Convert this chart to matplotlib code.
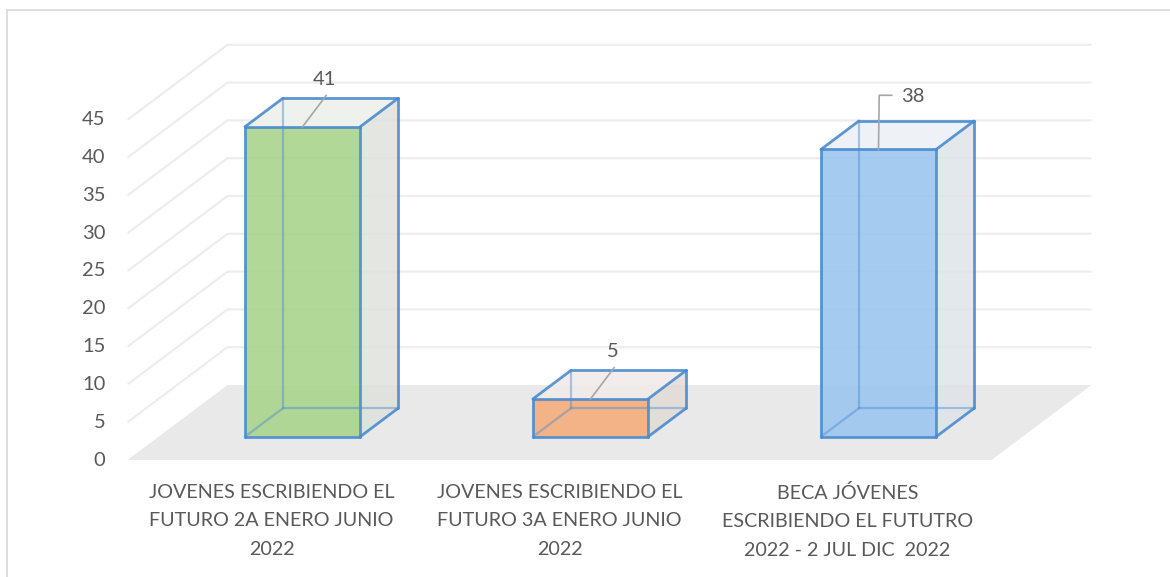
import matplotlib.pyplot as plt
from matplotlib.patches import Polygon, Rectangle
import numpy as np

plt.rcParams['font.family'] = ['Lato', 'DejaVu Sans']

# Data
categories = [
    "JOVENES ESCRIBIENDO EL\nFUTURO 2A ENERO JUNIO\n2022",
    "JOVENES ESCRIBIENDO EL\nFUTURO 3A ENERO JUNIO\n2022",
    "BECA JÓVENES\nESCRIBIENDO EL FUTUTRO\n2022 - 2 JUL DIC  2022",
]
values = [41, 5, 38]
front_colors = ["#a9d48c", "#f5ad7c", "#9cc6ef"]
side_colors = ["#dfe2dc", "#e3dcd8", "#dfe4ea"]
top_colors = ["#eef0ec", "#f1ecea", "#edf1f5"]
yticks = [0, 5, 10, 15, 20, 25, 30, 35, 40, 45]

# Oblique projection: depth d in [0, 1] shifts right and up
DX = 100 / 288
DY = 75 / 7.56
BAR_W = 0.4
D0, D1 = 0.31, 0.69

TEXT = "#595959"
GRID = "#ededed"
EDGE = "#4a8bd0"


def proj(x, v, d):
    return (x + DX * d, v + DY * d)


fig = plt.figure(figsize=(11.70, 5.77), dpi=100)
ax = fig.add_axes([0, 0, 1, 1])
ax.set_xlim(-271.5 / 288, (1170 - 271.5) / 288)
ax.set_ylim(-117 / 7.56, (577 - 117) / 7.56)
ax.axis("off")

# chart area border (top and left edges)
fig.patches.append(Rectangle((7 / 1170, -0.1), 1.2, 1.1 - 10 / 577,
                             transform=fig.transFigure, fill=False,
                             edgecolor="#d9d9d9", linewidth=1.2))

x_left, x_right = -0.5, len(values) - 0.5

# floor
floor = [proj(x_left, 0, 0), proj(x_right, 0, 0),
         proj(x_right, 0, 1), proj(x_left, 0, 1)]
ax.add_patch(Polygon(floor, closed=True, facecolor="#e9e9e9",
                     edgecolor="none", zorder=1))

# side and back wall gridlines
for v in yticks[1:]:
    p0 = proj(x_left, v, 0)
    p1 = proj(x_left, v, 1)
    p2 = proj(x_right, v, 1)
    ax.plot([p0[0], p1[0], p2[0]], [p0[1], p1[1], p2[1]],
            color=GRID, linewidth=1.6, zorder=0.5, solid_capstyle="butt")

# y tick labels
for v in yticks:
    ax.annotate(str(v), xy=proj(x_left, v, 0), xytext=(-16, 0),
                textcoords="offset points", ha="right", va="center",
                fontsize=14.5, color=TEXT)

# category labels
for i, lab in enumerate(categories):
    ax.annotate(lab, xy=proj(i, 0, 0), xytext=(0, -17),
                textcoords="offset points", ha="center", va="top",
                fontsize=14.2, color=TEXT, linespacing=1.84)

# 3D bars
for i, v in enumerate(values):
    xl, xr = i - BAR_W / 2, i + BAR_W / 2
    fbl, fbr = proj(xl, 0, D0), proj(xr, 0, D0)
    ftl, ftr = proj(xl, v, D0), proj(xr, v, D0)
    bbl, bbr = proj(xl, 0, D1), proj(xr, 0, D1)
    btl, btr = proj(xl, v, D1), proj(xr, v, D1)

    # right and top faces
    ax.add_patch(Polygon([fbr, bbr, btr, ftr], closed=True,
                         facecolor=side_colors[i], alpha=0.85,
                         edgecolor="none", zorder=3))
    ax.add_patch(Polygon([ftl, ftr, btr, btl], closed=True,
                         facecolor=top_colors[i], alpha=0.9,
                         edgecolor="none", zorder=3))
    # front face
    ax.add_patch(Polygon([fbl, fbr, ftr, ftl], closed=True,
                         facecolor=front_colors[i], alpha=0.9,
                         edgecolor="none", zorder=4))
    # hidden edges, seen through the translucent front face
    for a, b in [(fbl, bbl), (bbl, bbr), (bbl, btl)]:
        ax.plot([a[0], b[0]], [a[1], b[1]], color=EDGE, linewidth=1.6,
                alpha=0.45, zorder=4.5, solid_capstyle="round")
    # visible edges
    for a, b in [(fbl, fbr), (fbr, ftr), (ftr, ftl), (ftl, fbl),
                 (ftl, btl), (btl, btr), (btr, ftr), (btr, bbr), (bbr, fbr)]:
        ax.plot([a[0], b[0]], [a[1], b[1]], color=EDGE, linewidth=2.0,
                alpha=0.9, zorder=5, solid_capstyle="round")

# data labels with leader lines
for i, v in enumerate(values):
    anchor = proj(i, v, D0)
    p = ax.transData.transform(anchor)
    if i == 2:
        ax.annotate(str(v), xy=anchor, xytext=(16, 38),
                    textcoords="offset points", ha="left", va="center",
                    fontsize=14.5, color=TEXT, zorder=6)
        pts = np.array([[0, 0], [0.5, 39], [9.5, 39]]) * 100 / 72 + p
    else:
        ax.annotate(str(v), xy=anchor, xytext=(16, 34),
                    textcoords="offset points", ha="center", va="center",
                    fontsize=14.5, color=TEXT, zorder=6)
        pts = np.array([[0, 0], [17, 22.5]]) * 100 / 72 + p
    xy = ax.transData.inverted().transform(pts)
    ax.plot(xy[:, 0], xy[:, 1], color="#a6a6a6", linewidth=1.2, zorder=6)

fig.savefig("out.png", dpi=100)
